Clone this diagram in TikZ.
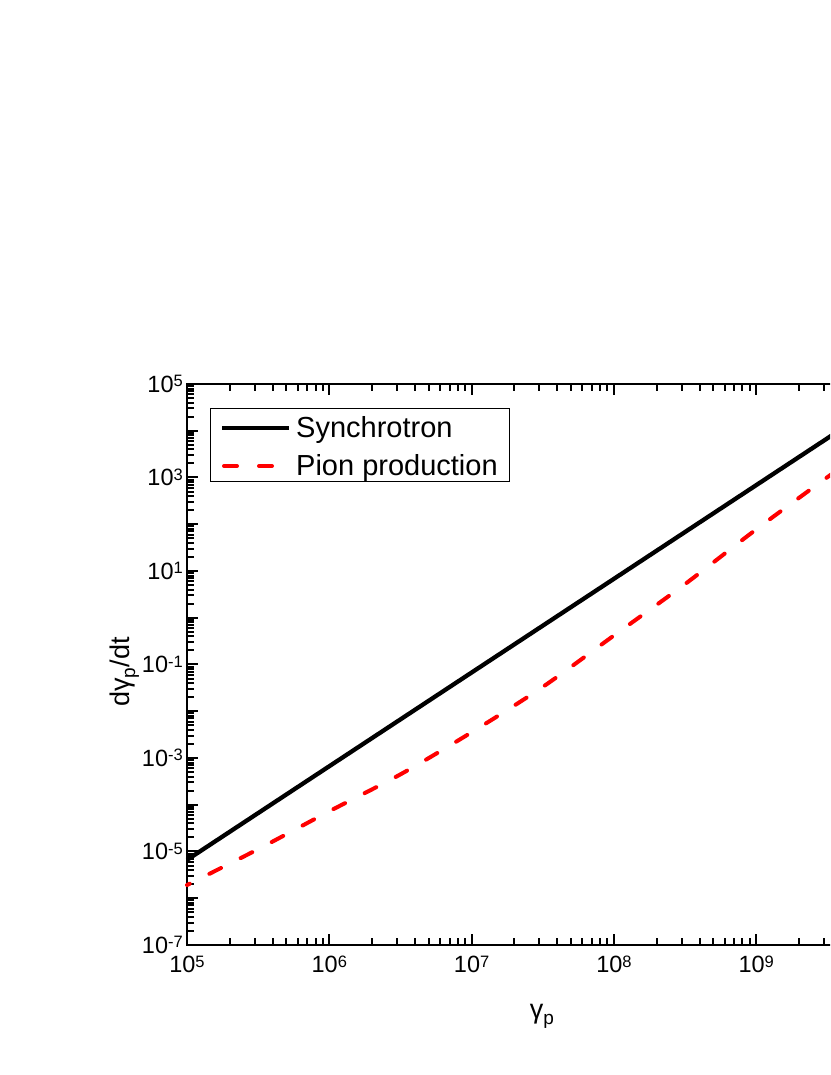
\documentclass[tikz,border=0pt]{standalone}
\usepackage{fontspec}
\setmainfont{Liberation Sans}
\newcommand{\tenpow}[1]{10\raisebox{5.5pt}{\fontsize{16.5}{18}\selectfont #1}}
\newcommand{\subp}{\raisebox{-6pt}{\fontsize{19}{20}\selectfont p}}

\begin{document}
\begin{tikzpicture}[x=1pt,y=1pt,
        axisline/.style={line width=2.2pt},
        tickline/.style={line width=2pt},
        synchline/.style={line width=4.3pt,black},
        pionline/.style={line width=4pt,red,line cap=round,dash pattern=on 13pt off 22pt},
        ticklabel/.style={inner sep=0pt,font=\fontsize{23.5}{26}\selectfont},
        labeltext/.style={inner sep=0pt,font=\fontsize{27}{30}\selectfont},
        legendtext/.style={inner sep=0pt,font=\fontsize{29}{34}\selectfont}]
        \useasboundingbox (0,0) rectangle (830,1075);
        \clip (0,0) rectangle (830,1075);

        % axis titles
        \node[labeltext,anchor=base](xlab)at(542,56) {γ\subp};
        \node[labeltext,anchor=base,rotate=90](ylab)at(129,403) {dγ\subp/dt};

        % data frame: x = log10(gamma_p)-5, y = log10(dgamma/dt)+7
        \begin{scope}[shift={(187pt,130pt)},x=142.3pt,y=46.75pt]
            \draw[axisline] (0,0) rectangle (5,12);
            \foreach \d in {0,...,4}{
                \draw[tickline] (\d,0) -- ++(0,11pt);
                \draw[tickline] (\d,12) -- ++(0,-11pt);
                \foreach \k in {2,...,9}{
                    \draw[tickline] ({\d+log10(\k)},0) -- ++(0,7pt);
                    \draw[tickline] ({\d+log10(\k)},12) -- ++(0,-7pt);
                }
            }
            \foreach \d in {0,...,11}{
                \draw[tickline] (0,\d) -- ++(11pt,0);
                \foreach \k in {2,...,9}
                    \draw[tickline] (0,{\d+log10(\k)}) -- ++(7pt,0);
            }
            \draw[tickline] (0,12) -- ++(11pt,0);

            \foreach \d/\e in {0/5,1/6,2/7,3/8,4/9}
                \node[ticklabel,anchor=base](xt\e)at([yshift=-28pt]\d,0) {\tenpow{\e}};
            \foreach \v/\e in {0/-7,2/-5,4/-3,6/-1,8/1,10/3,12/5}
                \node[ticklabel,anchor=base east](yt\v)at([xshift=-4pt,yshift=-8.5pt]0,\v) {\tenpow{\e}};

            % curves
            \draw[synchline] (0,1.82) -- (5,11.84);
            \draw[pionline,dash phase=10pt] plot[smooth] coordinates {(0,1.283) (0.5,2.05) (1,2.86) (1.5,3.65) (2,4.55) (2.5,5.52) (3,6.62) (3.5,7.72) (4,8.89) (4.52,10.05) (5,11.1)};
        \end{scope}

        % legend
        \draw[line width=1pt] (210,593) rectangle (509,666);
        \draw[synchline] (222,647) -- (289,647);
        \draw[pionline] (224,609) -- (289,609);
        \node[legendtext,anchor=base west](synchlab)at(296,637) {Synchrotron};
        \node[legendtext,anchor=base west](pionlab)at(296,599) {Pion production};
    \end{tikzpicture}
\end{document}
